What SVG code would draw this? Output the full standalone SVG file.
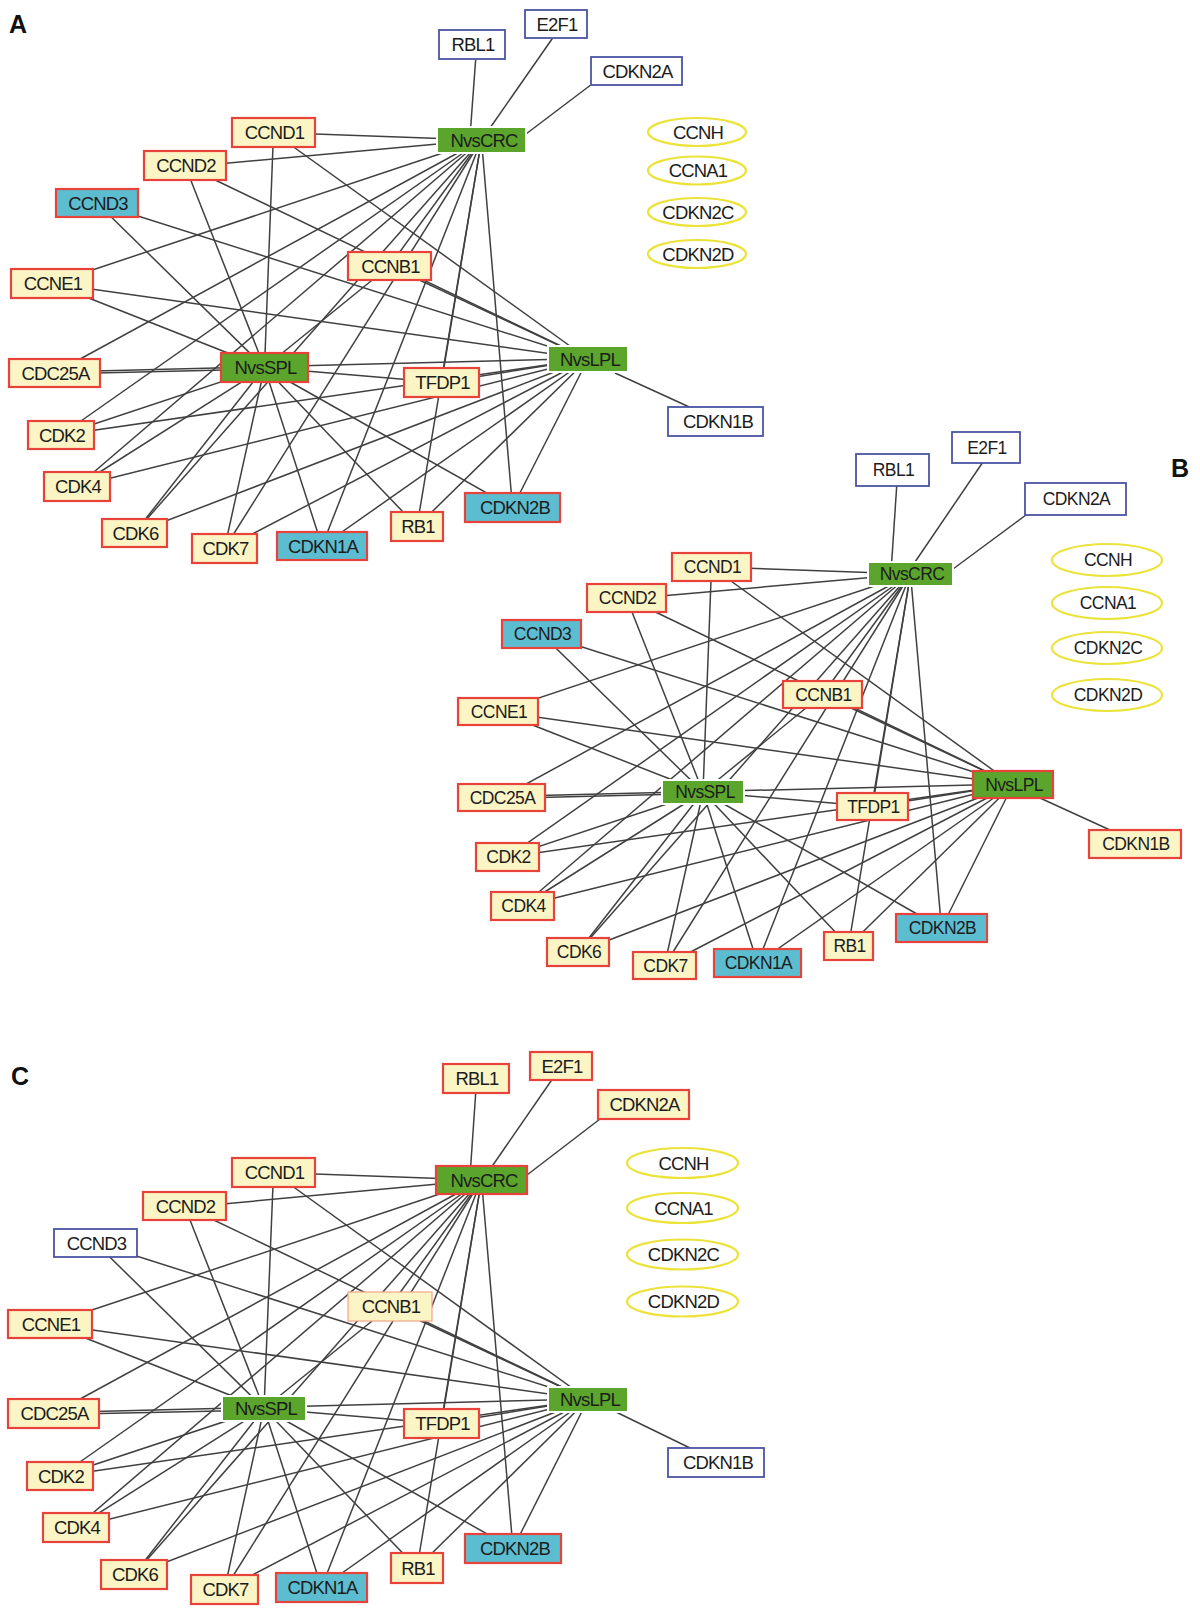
<svg xmlns="http://www.w3.org/2000/svg" width="1200" height="1615" viewBox="0 0 1200 1615">
<style>
.e line{stroke:#404040;stroke-width:1.5;fill:none}
text{font-family:"Liberation Sans",Arial,sans-serif;font-size:18.5px;fill:#1c1c1c;text-anchor:middle;letter-spacing:-0.8px}
.pb text{font-size:17.5px;letter-spacing:-0.6px}
text.lbl{font-size:25px;font-weight:bold;text-anchor:start;letter-spacing:0;fill:#111}
.y rect{fill:#fbf4c4;stroke:#e8433b;stroke-width:2.2}
.c rect{fill:#5cbdd1;stroke:#e8433b;stroke-width:2.2}
.w rect{fill:#fff;stroke:#4b54a3;stroke-width:1.8}
.g rect{fill:#5ba52c;stroke:#fff;stroke-width:2}
.gr rect{fill:#5ba52c;stroke:#e8433b;stroke-width:2.2}
.yl rect{fill:#fbf4c4;stroke:#f2a585;stroke-width:1.2}
.o ellipse{fill:#fff;stroke:#ece33a;stroke-width:2.2}
</style>
<rect width="1200" height="1615" fill="#fff"/>

<!-- ================= PANEL A ================= -->
<g id="panelA">
<text class="lbl" x="9" y="33">A</text>
<g id="A-connectors" class="e">
<line x1="475.7" y1="59" x2="470.7" y2="127"/>
<line x1="552.7" y1="38" x2="490" y2="128"/>
<line x1="590.7" y1="85" x2="526" y2="134"/>
<line x1="615" y1="373" x2="689.3" y2="407"/>
<line x1="273.5" y1="132.5" x2="481.5" y2="140"/>
<line x1="273.5" y1="132.5" x2="264.5" y2="367.5"/>
<line x1="273.5" y1="132.5" x2="588" y2="359"/>
<line x1="185" y1="167" x2="481.5" y2="140"/>
<line x1="185" y1="165.5" x2="264.5" y2="367.5"/>
<line x1="185" y1="165.5" x2="588" y2="359"/>
<line x1="97" y1="203" x2="264.5" y2="367.5"/>
<line x1="97" y1="203" x2="588" y2="359"/>
<line x1="52" y1="283.5" x2="481.5" y2="140"/>
<line x1="52" y1="283.5" x2="264.5" y2="367.5"/>
<line x1="52" y1="283.5" x2="588" y2="359"/>
<line x1="389.5" y1="266" x2="481.5" y2="140"/>
<line x1="389.5" y1="266" x2="264.5" y2="367.5"/>
<line x1="389.5" y1="266" x2="588" y2="359"/>
<line x1="54.5" y1="373" x2="481.5" y2="140"/>
<line x1="54.5" y1="374" x2="264.5" y2="369"/>
<line x1="54.5" y1="372" x2="588" y2="358.5"/>
<line x1="61" y1="435" x2="481.5" y2="140"/>
<line x1="61" y1="435" x2="264.5" y2="367.5"/>
<line x1="61" y1="435" x2="588" y2="359"/>
<line x1="77" y1="486.5" x2="481.5" y2="140"/>
<line x1="77" y1="486.5" x2="264.5" y2="367.5"/>
<line x1="77" y1="486.5" x2="588" y2="359"/>
<line x1="134.5" y1="533" x2="481.5" y2="140"/>
<line x1="134.5" y1="533" x2="264.5" y2="367.5"/>
<line x1="134.5" y1="533" x2="588" y2="359"/>
<line x1="224.5" y1="548.5" x2="481.5" y2="140"/>
<line x1="224.5" y1="548.5" x2="264.5" y2="367.5"/>
<line x1="224.5" y1="548.5" x2="588" y2="359"/>
<line x1="322" y1="546" x2="481.5" y2="140"/>
<line x1="322" y1="546" x2="264.5" y2="367.5"/>
<line x1="322" y1="546" x2="588" y2="359"/>
<line x1="417" y1="526.5" x2="481.5" y2="140"/>
<line x1="417" y1="526.5" x2="264.5" y2="367.5"/>
<line x1="417" y1="526.5" x2="588" y2="359"/>
<line x1="512.5" y1="507.5" x2="481.5" y2="140"/>
<line x1="512.5" y1="507.5" x2="264.5" y2="367.5"/>
<line x1="512.5" y1="507.5" x2="588" y2="359"/>
<line x1="441.5" y1="382.5" x2="481.5" y2="140"/>
<line x1="441.5" y1="382.5" x2="264.5" y2="367.5"/>
<line x1="441.5" y1="382.5" x2="588" y2="359"/>
</g>
<g id="A-RBL1" class="w"><rect x="439" y="30" width="66" height="29"/><text x="473" y="51">RBL1</text></g>
<g id="A-E2F1" class="w"><rect x="525" y="10" width="62" height="28"/><text x="557" y="30.5">E2F1</text></g>
<g id="A-CDKN2A" class="w"><rect x="591" y="57" width="91" height="28"/><text x="637.5" y="77.5">CDKN2A</text></g>
<g id="A-NvsCRC" class="g"><rect x="437" y="127" width="89" height="26"/><text x="484" y="146.5">NvsCRC</text></g>
<g id="A-CCND1" class="y"><rect x="232" y="118" width="83" height="29"/><text x="274.5" y="139">CCND1</text></g>
<g id="A-CCND2" class="y"><rect x="144" y="151" width="82" height="29"/><text x="186" y="172">CCND2</text></g>
<g id="A-CCND3" class="c"><rect x="56" y="189" width="82" height="28"/><text x="98" y="209.5">CCND3</text></g>
<g id="A-CCNE1" class="y"><rect x="11" y="269" width="82" height="29"/><text x="53" y="290">CCNE1</text></g>
<g id="A-CCNB1" class="y"><rect x="348" y="252" width="83" height="28"/><text x="390.5" y="272.5">CCNB1</text></g>
<g id="A-CDC25A" class="y"><rect x="9" y="359" width="91" height="28"/><text x="55.5" y="379.5">CDC25A</text></g>
<g id="A-NvsSPL" class="gr"><rect x="221" y="353" width="87" height="29"/><text x="265.5" y="374">NvsSPL</text></g>
<g id="A-CDK2" class="y"><rect x="28" y="421" width="66" height="28"/><text x="62" y="441.5">CDK2</text></g>
<g id="A-CDK4" class="y"><rect x="44" y="472" width="66" height="29"/><text x="78" y="493">CDK4</text></g>
<g id="A-CDK6" class="y"><rect x="102" y="519" width="65" height="28"/><text x="135.5" y="539.5">CDK6</text></g>
<g id="A-CDK7" class="y"><rect x="192" y="534" width="65" height="29"/><text x="225.5" y="555">CDK7</text></g>
<g id="A-CDKN1A" class="c"><rect x="277" y="532" width="90" height="28"/><text x="323" y="552.5">CDKN1A</text></g>
<g id="A-NvsLPL" class="g"><rect x="548" y="346" width="80" height="26"/><text x="590" y="365.5">NvsLPL</text></g>
<g id="A-TFDP1" class="y"><rect x="404" y="368" width="75" height="29"/><text x="442.5" y="389">TFDP1</text></g>
<g id="A-CDKN1B" class="w"><rect x="668" y="407" width="95" height="29"/><text x="718" y="428">CDKN1B</text></g>
<g id="A-CDKN2B" class="c"><rect x="465" y="493" width="95" height="29"/><text x="515" y="514">CDKN2B</text></g>
<g id="A-RB1" class="y"><rect x="391" y="512" width="52" height="29"/><text x="418" y="533">RB1</text></g>
<g id="A-CCNH" class="o"><ellipse cx="697" cy="132" rx="49" ry="14"/><text x="698" y="138.5">CCNH</text></g>
<g id="A-CCNA1" class="o"><ellipse cx="697" cy="170.5" rx="49" ry="14"/><text x="698" y="177">CCNA1</text></g>
<g id="A-CDKN2C" class="o"><ellipse cx="697" cy="212" rx="49" ry="14"/><text x="698" y="218.5">CDKN2C</text></g>
<g id="A-CDKN2D" class="o"><ellipse cx="697" cy="254" rx="49" ry="14"/><text x="698" y="260.5">CDKN2D</text></g>
</g>

<!-- ================= PANEL B ================= -->
<g id="panelB" class="pb">
<text class="lbl" x="1171" y="477">B</text>
<g id="B-connectors" class="e">
<line x1="896.7" y1="486" x2="891.7" y2="562"/>
<line x1="982.3" y1="463" x2="915" y2="562"/>
<line x1="1026" y1="515" x2="953" y2="569"/>
<line x1="1040" y1="798" x2="1110" y2="830"/>
<line x1="711.5" y1="567" x2="910.5" y2="574"/>
<line x1="711.5" y1="567" x2="703" y2="792"/>
<line x1="711.5" y1="567" x2="1013" y2="784.5"/>
<line x1="626.5" y1="599" x2="910.5" y2="574"/>
<line x1="626.5" y1="598" x2="703" y2="792"/>
<line x1="626.5" y1="598" x2="1013" y2="784.5"/>
<line x1="541.5" y1="634" x2="703" y2="792"/>
<line x1="541.5" y1="634" x2="1013" y2="784.5"/>
<line x1="498" y1="711.5" x2="910.5" y2="574"/>
<line x1="498" y1="711.5" x2="703" y2="792"/>
<line x1="498" y1="711.5" x2="1013" y2="784.5"/>
<line x1="822.5" y1="694.5" x2="910.5" y2="574"/>
<line x1="822.5" y1="694.5" x2="703" y2="792"/>
<line x1="822.5" y1="694.5" x2="1013" y2="784.5"/>
<line x1="501.5" y1="797.5" x2="910.5" y2="574"/>
<line x1="501.5" y1="798.5" x2="703" y2="793.5"/>
<line x1="501.5" y1="796.5" x2="1013" y2="784"/>
<line x1="507.5" y1="857" x2="910.5" y2="574"/>
<line x1="507.5" y1="857" x2="703" y2="792"/>
<line x1="507.5" y1="857" x2="1013" y2="784.5"/>
<line x1="522.5" y1="906" x2="910.5" y2="574"/>
<line x1="522.5" y1="906" x2="703" y2="792"/>
<line x1="522.5" y1="906" x2="1013" y2="784.5"/>
<line x1="578" y1="952" x2="910.5" y2="574"/>
<line x1="578" y1="952" x2="703" y2="792"/>
<line x1="578" y1="952" x2="1013" y2="784.5"/>
<line x1="664.5" y1="965.5" x2="910.5" y2="574"/>
<line x1="664.5" y1="965.5" x2="703" y2="792"/>
<line x1="664.5" y1="965.5" x2="1013" y2="784.5"/>
<line x1="757.5" y1="963" x2="910.5" y2="574"/>
<line x1="757.5" y1="963" x2="703" y2="792"/>
<line x1="757.5" y1="963" x2="1013" y2="784.5"/>
<line x1="848.5" y1="946" x2="910.5" y2="574"/>
<line x1="848.5" y1="946" x2="703" y2="792"/>
<line x1="848.5" y1="946" x2="1013" y2="784.5"/>
<line x1="941.5" y1="928" x2="910.5" y2="574"/>
<line x1="941.5" y1="928" x2="703" y2="792"/>
<line x1="941.5" y1="928" x2="1013" y2="784.5"/>
<line x1="872.5" y1="806.5" x2="910.5" y2="574"/>
<line x1="872.5" y1="806.5" x2="703" y2="792"/>
<line x1="872.5" y1="806.5" x2="1013" y2="784.5"/>
</g>
<g id="B-RBL1" class="w"><rect x="856" y="454" width="73" height="32"/><text x="893.5" y="476">RBL1</text></g>
<g id="B-E2F1" class="w"><rect x="952" y="432" width="68" height="31"/><text x="987" y="453.5">E2F1</text></g>
<g id="B-CDKN2A" class="w"><rect x="1025" y="483" width="101" height="32"/><text x="1076.5" y="505">CDKN2A</text></g>
<g id="B-NvsCRC" class="g"><rect x="868" y="562" width="85" height="24"/><text x="912" y="580">NvsCRC</text></g>
<g id="B-CCND1" class="y"><rect x="672" y="553" width="79" height="28"/><text x="712.5" y="573">CCND1</text></g>
<g id="B-CCND2" class="y"><rect x="587" y="584" width="79" height="28"/><text x="627.5" y="604">CCND2</text></g>
<g id="B-CCND3" class="c"><rect x="502" y="620" width="79" height="28"/><text x="542.5" y="640">CCND3</text></g>
<g id="B-CCNE1" class="y"><rect x="458" y="698" width="80" height="27"/><text x="499" y="717.5">CCNE1</text></g>
<g id="B-CCNB1" class="y"><rect x="783" y="681" width="79" height="27"/><text x="823.5" y="700.5">CCNB1</text></g>
<g id="B-CDC25A" class="y"><rect x="458" y="784" width="87" height="27"/><text x="502.5" y="803.5">CDC25A</text></g>
<g id="B-NvsSPL" class="g"><rect x="662" y="780" width="82" height="24"/><text x="705" y="798">NvsSPL</text></g>
<g id="B-CDK2" class="y"><rect x="476" y="843" width="63" height="28"/><text x="508.5" y="863">CDK2</text></g>
<g id="B-CDK4" class="y"><rect x="491" y="892" width="63" height="28"/><text x="523.5" y="912">CDK4</text></g>
<g id="B-CDK6" class="y"><rect x="547" y="938" width="62" height="28"/><text x="579" y="958">CDK6</text></g>
<g id="B-CDK7" class="y"><rect x="633" y="952" width="63" height="27"/><text x="665.5" y="971.5">CDK7</text></g>
<g id="B-CDKN1A" class="c"><rect x="714" y="949" width="87" height="28"/><text x="758.5" y="969">CDKN1A</text></g>
<g id="B-RB1" class="y"><rect x="824" y="932" width="49" height="28"/><text x="849.5" y="952">RB1</text></g>
<g id="B-CDKN2B" class="c"><rect x="896" y="914" width="91" height="28"/><text x="942.5" y="934">CDKN2B</text></g>
<g id="B-TFDP1" class="y"><rect x="837" y="793" width="71" height="27"/><text x="873.5" y="812.5">TFDP1</text></g>
<g id="B-NvsLPL" class="gr"><rect x="973" y="771" width="80" height="27"/><text x="1014" y="790.5">NvsLPL</text></g>
<g id="B-CDKN1B" class="y"><rect x="1089" y="830" width="92" height="28"/><text x="1136" y="850">CDKN1B</text></g>
<g id="B-CCNH" class="o"><ellipse cx="1107" cy="560" rx="55" ry="16"/><text x="1108" y="566">CCNH</text></g>
<g id="B-CCNA1" class="o"><ellipse cx="1107" cy="603" rx="55" ry="16"/><text x="1108" y="609">CCNA1</text></g>
<g id="B-CDKN2C" class="o"><ellipse cx="1107" cy="648" rx="55" ry="16"/><text x="1108" y="654">CDKN2C</text></g>
<g id="B-CDKN2D" class="o"><ellipse cx="1107" cy="695" rx="55" ry="16"/><text x="1108" y="701">CDKN2D</text></g>
</g>

<!-- ================= PANEL C ================= -->
<g id="panelC">
<text class="lbl" x="11" y="1085">C</text>
<g id="C-connectors" class="e">
<line x1="475.7" y1="1093" x2="470.7" y2="1166"/>
<line x1="551.7" y1="1080" x2="492.3" y2="1166"/>
<line x1="600" y1="1119" x2="527" y2="1175"/>
<line x1="616" y1="1412" x2="690" y2="1448"/>
<line x1="273.5" y1="1172.5" x2="481.5" y2="1180"/>
<line x1="273.5" y1="1172.5" x2="264" y2="1408.5"/>
<line x1="273.5" y1="1172.5" x2="588" y2="1399.5"/>
<line x1="184.5" y1="1207.5" x2="481.5" y2="1180"/>
<line x1="184.5" y1="1206" x2="264" y2="1408.5"/>
<line x1="184.5" y1="1206" x2="588" y2="1399.5"/>
<line x1="95.5" y1="1243" x2="264" y2="1408.5"/>
<line x1="95.5" y1="1243" x2="588" y2="1399.5"/>
<line x1="50" y1="1324" x2="481.5" y2="1180"/>
<line x1="50" y1="1324" x2="264" y2="1408.5"/>
<line x1="50" y1="1324" x2="588" y2="1399.5"/>
<line x1="390" y1="1306.5" x2="481.5" y2="1180"/>
<line x1="390" y1="1306.5" x2="264" y2="1408.5"/>
<line x1="390" y1="1306.5" x2="588" y2="1399.5"/>
<line x1="53.5" y1="1413.5" x2="481.5" y2="1180"/>
<line x1="53.5" y1="1414.5" x2="264" y2="1410"/>
<line x1="53.5" y1="1412.5" x2="588" y2="1399"/>
<line x1="60" y1="1476" x2="481.5" y2="1180"/>
<line x1="60" y1="1476" x2="264" y2="1408.5"/>
<line x1="60" y1="1476" x2="588" y2="1399.5"/>
<line x1="76" y1="1527.5" x2="481.5" y2="1180"/>
<line x1="76" y1="1527.5" x2="264" y2="1408.5"/>
<line x1="76" y1="1527.5" x2="588" y2="1399.5"/>
<line x1="134" y1="1574.5" x2="481.5" y2="1180"/>
<line x1="134" y1="1574.5" x2="264" y2="1408.5"/>
<line x1="134" y1="1574.5" x2="588" y2="1399.5"/>
<line x1="224.5" y1="1589.5" x2="481.5" y2="1180"/>
<line x1="224.5" y1="1589.5" x2="264" y2="1408.5"/>
<line x1="224.5" y1="1589.5" x2="588" y2="1399.5"/>
<line x1="321.5" y1="1587.5" x2="481.5" y2="1180"/>
<line x1="321.5" y1="1587.5" x2="264" y2="1408.5"/>
<line x1="321.5" y1="1587.5" x2="588" y2="1399.5"/>
<line x1="417" y1="1568" x2="481.5" y2="1180"/>
<line x1="417" y1="1568" x2="264" y2="1408.5"/>
<line x1="417" y1="1568" x2="588" y2="1399.5"/>
<line x1="513" y1="1548.5" x2="481.5" y2="1180"/>
<line x1="513" y1="1548.5" x2="264" y2="1408.5"/>
<line x1="513" y1="1548.5" x2="588" y2="1399.5"/>
<line x1="441.5" y1="1423.5" x2="481.5" y2="1180"/>
<line x1="441.5" y1="1423.5" x2="264" y2="1408.5"/>
<line x1="441.5" y1="1423.5" x2="588" y2="1399.5"/>
</g>
<g id="C-RBL1" class="y"><rect x="443" y="1064" width="66" height="29"/><text x="477" y="1085">RBL1</text></g>
<g id="C-E2F1" class="y"><rect x="530" y="1052" width="62" height="28"/><text x="562" y="1072.5">E2F1</text></g>
<g id="C-CDKN2A" class="y"><rect x="598" y="1090" width="91" height="29"/><text x="644.5" y="1111">CDKN2A</text></g>
<g id="C-NvsCRC" class="gr"><rect x="436" y="1166" width="91" height="28"/><text x="484" y="1186.5">NvsCRC</text></g>
<g id="C-CCND1" class="y"><rect x="232" y="1158" width="83" height="29"/><text x="274.5" y="1179">CCND1</text></g>
<g id="C-CCND2" class="y"><rect x="143" y="1192" width="83" height="28"/><text x="185.5" y="1212.5">CCND2</text></g>
<g id="C-CCND3" class="w"><rect x="54" y="1229" width="83" height="28"/><text x="96.5" y="1249.5">CCND3</text></g>
<g id="C-CCNE1" class="y"><rect x="8" y="1310" width="84" height="28"/><text x="51" y="1330.5">CCNE1</text></g>
<g id="C-CCNB1" class="yl"><rect x="348" y="1292" width="84" height="29"/><text x="391" y="1313">CCNB1</text></g>
<g id="C-CDC25A" class="y"><rect x="8" y="1399" width="91" height="29"/><text x="54.5" y="1420">CDC25A</text></g>
<g id="C-NvsSPL" class="g"><rect x="222" y="1396" width="84" height="25"/><text x="266" y="1415">NvsSPL</text></g>
<g id="C-CDK2" class="y"><rect x="27" y="1462" width="66" height="28"/><text x="61" y="1482.5">CDK2</text></g>
<g id="C-CDK4" class="y"><rect x="43" y="1513" width="66" height="29"/><text x="77" y="1534">CDK4</text></g>
<g id="C-CDK6" class="y"><rect x="101" y="1560" width="66" height="29"/><text x="135" y="1581">CDK6</text></g>
<g id="C-CDK7" class="y"><rect x="191" y="1575" width="67" height="29"/><text x="225.5" y="1596">CDK7</text></g>
<g id="C-CDKN1A" class="c"><rect x="276" y="1573" width="91" height="29"/><text x="322.5" y="1594">CDKN1A</text></g>
<g id="C-NvsLPL" class="g"><rect x="548" y="1387" width="80" height="25"/><text x="590" y="1406">NvsLPL</text></g>
<g id="C-TFDP1" class="y"><rect x="404" y="1409" width="75" height="29"/><text x="442.5" y="1430">TFDP1</text></g>
<g id="C-CDKN1B" class="w"><rect x="668" y="1448" width="96" height="29"/><text x="718" y="1469">CDKN1B</text></g>
<g id="C-CDKN2B" class="c"><rect x="465" y="1534" width="96" height="29"/><text x="515" y="1555">CDKN2B</text></g>
<g id="C-RB1" class="y"><rect x="391" y="1553" width="52" height="30"/><text x="418" y="1574.5">RB1</text></g>
<g id="C-CCNH" class="o"><ellipse cx="682.5" cy="1163" rx="55.5" ry="15"/><text x="683.5" y="1169.5">CCNH</text></g>
<g id="C-CCNA1" class="o"><ellipse cx="682.5" cy="1208" rx="55.5" ry="15"/><text x="683.5" y="1214.5">CCNA1</text></g>
<g id="C-CDKN2C" class="o"><ellipse cx="682.5" cy="1254.5" rx="55.5" ry="15"/><text x="683.5" y="1261">CDKN2C</text></g>
<g id="C-CDKN2D" class="o"><ellipse cx="682.5" cy="1301.5" rx="55.5" ry="15"/><text x="683.5" y="1308">CDKN2D</text></g>
</g>
</svg>
